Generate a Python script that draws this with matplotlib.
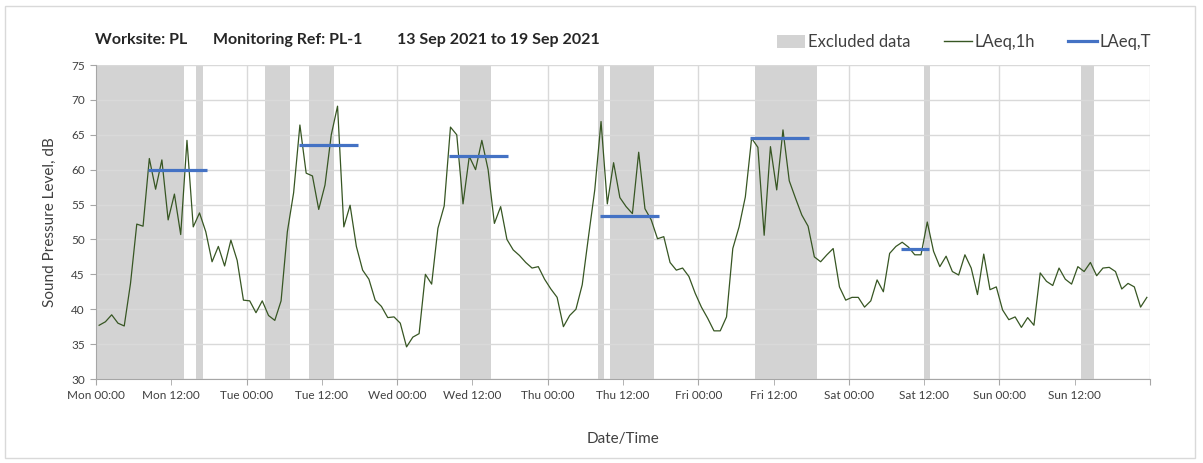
import matplotlib.pyplot as plt
from matplotlib.patches import Rectangle, Patch
from matplotlib.lines import Line2D

plt.rcParams['font.family'] = ['Lato', 'DejaVu Sans']

# hourly LAeq,1h values, Mon 00:00 to Sun 23:00 (one per hour)
laeq_1h = [
    37.7, 38.2, 39.2, 38.0, 37.6, 43.7, 52.2, 51.9, 61.6, 57.2, 61.4, 52.8,
    56.5, 50.7, 64.2, 51.8, 53.8, 51.1, 46.8, 49.0, 46.2, 49.9, 47.0, 41.3,
    41.2, 39.5, 41.2, 39.1, 38.4, 41.2, 51.1, 56.7, 66.4, 59.5, 59.1, 54.3,
    57.8, 65.0, 69.1, 51.8, 54.9, 49.0, 45.6, 44.3, 41.3, 40.4, 38.8, 38.9,
    38.0, 34.6, 36.0, 36.5, 45.0, 43.6, 51.6, 54.8, 66.1, 65.0, 55.1, 61.9,
    60.0, 64.2, 60.0, 52.3, 54.7, 50.0, 48.5, 47.7, 46.7, 45.9, 46.1, 44.3,
    42.9, 41.7, 37.5, 39.1, 40.0, 43.5, 50.4, 57.1, 66.9, 55.1, 61.0, 56.0,
    54.7, 53.7, 62.5, 54.4, 52.8, 50.1, 50.4, 46.7, 45.6, 45.9, 44.7, 42.3,
    40.3, 38.7, 36.9, 36.9, 38.9, 48.7, 51.8, 56.1, 64.5, 63.2, 50.6, 63.3,
    57.1, 65.7, 58.4, 55.9, 53.5, 51.9, 47.5, 46.8, 47.8, 48.7, 43.2, 41.3,
    41.7, 41.7, 40.3, 41.2, 44.2, 42.5, 48.0, 49.0, 49.6, 48.9, 47.8, 47.8,
    52.5, 48.3, 46.1, 47.6, 45.4, 44.9, 47.8, 45.9, 42.1, 47.9, 42.8, 43.2,
    39.9, 38.5, 38.9, 37.4, 38.8, 37.7, 45.2, 44.0, 43.4, 45.9, 44.3, 43.6,
    46.1, 45.4, 46.7, 44.8, 45.9, 46.0, 45.4, 42.9, 43.7, 43.2, 40.3, 41.7,
]
hours = [h + 0.5 for h in range(len(laeq_1h))]

# LAeq,T periods: first hour, last hour, level
laeq_t_start = [8, 32, 56, 80, 104, 128]
laeq_t_end = [17, 41, 65, 89, 113, 132]
laeq_t_level = [59.9, 63.6, 61.9, 53.3, 64.5, 48.6]

# excluded data periods (hours from Mon 00:00)
excl_start = [0, 16, 27, 34, 58, 80, 82, 105, 132, 157]
excl_end = [14, 17, 31, 38, 63, 81, 89, 115, 133, 159]

days = ['Mon', 'Tue', 'Wed', 'Thu', 'Fri', 'Sat', 'Sun']
title_parts = ['Worksite: PL', 'Monitoring Ref: PL-1', '13 Sep 2021 to 19 Sep 2021']

fig = plt.figure(figsize=(12.03, 4.63), dpi=100)
fig.patches.append(Rectangle((5 / 1203, 5 / 463), 1190 / 1203, 452 / 463,
                             transform=fig.transFigure, fill=False,
                             edgecolor='#D9D9D9', linewidth=1))
ax = fig.add_axes([96 / 1203, 1 - 379 / 463, 1054 / 1203, 314 / 463])

for s, e in zip(excl_start, excl_end):
    ax.axvspan(s, e, color='#D3D3D3', linewidth=0, zorder=0)

ax.plot(hours, laeq_1h, color='#375623', linewidth=0.9, zorder=3)
for s, e, v in zip(laeq_t_start, laeq_t_end, laeq_t_level):
    ax.plot([s + 0.3, e + 0.7], [v, v], color='#4472C4', linewidth=2.3,
            solid_capstyle='butt', zorder=4)

ax.set_xlim(0, 168)
ax.set_ylim(30, 75)
ax.set_yticks(range(30, 80, 5))
ax.set_xticks(range(0, 169, 24))
ax.set_xticklabels([d + ' 00:00' for d in days] + [''])
ax.set_xticks(range(12, 168, 24), minor=True)
ax.set_xticklabels([d + ' 12:00' for d in days], minor=True)

ax.grid(True, which='major', color='#D9D9D9', linewidth=1, zorder=1)
ax.set_axisbelow(True)
for side in ['top', 'right']:
    ax.spines[side].set_visible(False)
for side in ['left', 'bottom']:
    ax.spines[side].set_color('#A6A6A6')
ax.tick_params(which='both', axis='x', length=4, color='#A6A6A6',
               labelsize=8.5, labelcolor='#404040', pad=4)
ax.tick_params(axis='y', length=4, color='#A6A6A6', labelsize=8.5,
               labelcolor='#404040', pad=4)

ax.set_ylabel('Sound Pressure Level, dB', fontsize=11, color='#404040', labelpad=10)
ax.set_xlabel('Date/Time', fontsize=11, color='#404040', labelpad=22)

for xp, part in zip([95, 213, 397], title_parts):
    fig.text(xp / 1203, 1 - 40 / 463, part, fontsize=11.5, fontweight='bold',
             color='#262626', va='center')

handles = [Patch(facecolor='#D3D3D3', edgecolor='none'),
           Line2D([], [], color='#375623', linewidth=1),
           Line2D([], [], color='#4472C4', linewidth=2.3)]
fig.legend(handles, ['Excluded data', 'LAeq,1h', 'LAeq,T'],
           loc='center left', bbox_to_anchor=(762 / 1203, 1 - 42 / 463),
           ncol=3, frameon=False, fontsize=12, handlelength=1.7,
           handletextpad=0.15, columnspacing=2.0, handleheight=0.8,
           labelcolor='#404040')

fig.savefig('out.png', dpi=100)
